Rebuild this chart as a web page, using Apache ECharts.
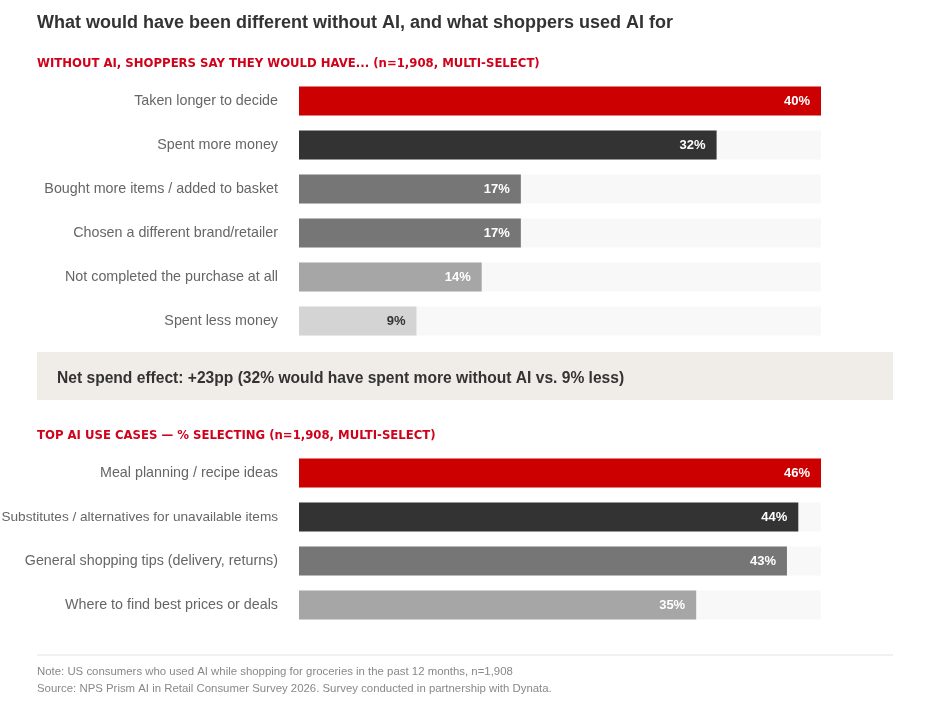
<!DOCTYPE html>
<html>
<head>
<meta charset="utf-8">
<script src="https://cdn.jsdelivr.net/npm/echarts@6/dist/echarts.min.js"></script>
<style>
  html, body { margin: 0; padding: 0; background: #fff; }
  #main { width: 936px; height: 708px; }
</style>
</head>
<body>
<div id="main"></div>
<script>
// without AI, what shoppers would have done
var withoutCats = ['Taken longer to decide', 'Spent more money', 'Bought more items / added to basket',
  'Chosen a different brand/retailer', 'Not completed the purchase at all', 'Spent less money'];
var withoutVals = [40, 32, 17, 17, 14, 9];
var withoutColors = ['#cc0000', '#333333', '#767676', '#767676', '#a6a6a6', '#d4d4d4'];

// top AI use cases
var useCats = ['Meal planning / recipe ideas', 'Substitutes / alternatives for unavailable items',
  'General shopping tips (delivery, returns)', 'Where to find best prices or deals'];
var useVals = [46, 44, 43, 35];
var useColors = ['#cc0000', '#333333', '#767676', '#a6a6a6'];

var font = '"Liberation Sans", Arial, sans-serif';
var wideFont = '"DejaVu Sans", "Liberation Sans", sans-serif';

function barData(vals, colors) {
  return vals.map(function (v, i) {
    return {
      value: v,
      itemStyle: { color: colors[i] },
      label: { color: colors[i] === '#d4d4d4' ? '#333333' : '#ffffff' }
    };
  });
}

// the longest label has to fit inside the left edge
var useCatItems = useCats.map(function (c) {
  return c.length > 45 ? { value: c, textStyle: { fontSize: 13.6 } } : c;
});

var chart = echarts.init(document.getElementById('main'));

var option = {
  backgroundColor: '#ffffff',
  animation: false,
  title: [
    { text: 'What would have been different without AI, and what shoppers used AI for',
      left: 37, top: 14, padding: 0,
      textStyle: { fontFamily: font, fontSize: 18, fontWeight: 'bold', color: '#333333' } },
    { text: 'WITHOUT AI, SHOPPERS SAY THEY WOULD HAVE... (n=1,908, MULTI-SELECT)',
      left: 37, top: 58, padding: 0,
      textStyle: { fontFamily: wideFont, fontSize: 11.7, fontWeight: 'bold', color: '#d0021b' } },
    { text: 'TOP AI USE CASES \u2014 % SELECTING (n=1,908, MULTI-SELECT)',
      left: 37, top: 430, padding: 0,
      textStyle: { fontFamily: wideFont, fontSize: 11.7, fontWeight: 'bold', color: '#d0021b' } }
  ],
  graphic: [
    { type: 'rect', shape: { x: 37, y: 352, width: 856, height: 48 }, style: { fill: '#f0ede9' } },
    { type: 'text', left: 57, top: 371,
      style: { text: 'Net spend effect: +23pp (32% would have spent more without AI vs. 9% less)',
        font: 'bold 15.6px ' + font, fill: '#333333' } },
    { type: 'line', shape: { x1: 37, y1: 655, x2: 893, y2: 655 }, style: { stroke: '#e3e3e3', lineWidth: 1 } },
    { type: 'text', left: 37, top: 666,
      style: { text: 'Note: US consumers who used AI while shopping for groceries in the past 12 months, n=1,908',
        font: '11.4px ' + font, fill: '#888888' } },
    { type: 'text', left: 37, top: 683,
      style: { text: 'Source: NPS Prism AI in Retail Consumer Survey 2026. Survey conducted in partnership with Dynata.',
        font: '11.4px ' + font, fill: '#888888' } }
  ],
  grid: [
    { left: 299, width: 522, top: 79, height: 264, outerBoundsMode: 'none' },
    { left: 299, width: 522, top: 451, height: 176, outerBoundsMode: 'none' }
  ],
  xAxis: [
    { gridIndex: 0, type: 'value', min: 0, max: 40, show: false },
    { gridIndex: 1, type: 'value', min: 0, max: 46, show: false }
  ],
  yAxis: [
    { gridIndex: 0, type: 'category', data: withoutCats, inverse: true,
      axisLine: { show: false }, axisTick: { show: false },
      axisLabel: { margin: 21, fontFamily: font, fontSize: 14.3, color: '#666666' } },
    { gridIndex: 1, type: 'category', data: useCatItems, inverse: true,
      axisLine: { show: false }, axisTick: { show: false },
      axisLabel: { margin: 21, fontFamily: font, fontSize: 14.3, color: '#666666' } }
  ],
  series: [
    { type: 'bar', xAxisIndex: 0, yAxisIndex: 0, barWidth: 29,
      showBackground: true, backgroundStyle: { color: '#f8f8f8' },
      label: { show: true, position: 'insideRight', distance: 11, formatter: '{c}%',
        fontFamily: font, fontSize: 13, fontWeight: 'bold' },
      data: barData(withoutVals, withoutColors) },
    { type: 'bar', xAxisIndex: 1, yAxisIndex: 1, barWidth: 29,
      showBackground: true, backgroundStyle: { color: '#f8f8f8' },
      label: { show: true, position: 'insideRight', distance: 11, formatter: '{c}%',
        fontFamily: font, fontSize: 13, fontWeight: 'bold' },
      data: barData(useVals, useColors) }
  ]
};

chart.setOption(option);
</script>
</body>
</html>
